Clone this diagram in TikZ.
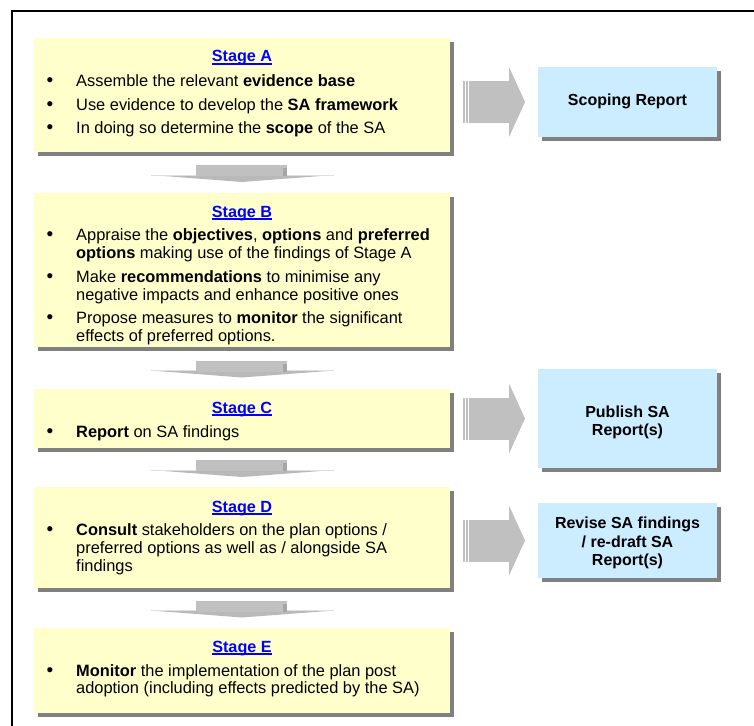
\documentclass[tikz,border=0pt]{standalone}
\usepackage{fontspec}
\setmainfont{Liberation Sans}
\usetikzlibrary{calc,shadows}
\definecolor{yfill}{HTML}{FFFFCC}
\definecolor{bfill}{HTML}{CCECFF}
\definecolor{shd}{HTML}{808080}
\definecolor{arr}{HTML}{C0C0C0}
\definecolor{ttl}{HTML}{0000FF}
\newcommand\stagettl[1]{\setbox0\hbox{\bfseries #1}\rlap{\rule[-2.8pt]{\wd0}{2pt}}\box0}
\begin{document}
\begin{tikzpicture}[x=1pt,y=-1pt,
  every node/.style={font=\fontsize{16}{18}\selectfont},
  boxshadow/.style={drop shadow={shadow xshift=4pt, shadow yshift=-4pt, fill=shd, opacity=1}},
  stagebox/.style={fill=yfill, inner sep=0, outer sep=0, anchor=north west, minimum width=416pt, boxshadow},
  outbox/.style={fill=bfill, inner sep=0, outer sep=0, anchor=north west, minimum width=179pt, boxshadow},
  ttlnode/.style={anchor=base, inner sep=0, text=ttl, font=\fontsize{16.2}{18}\selectfont},
  bul/.style={anchor=base, inner sep=0, font=\fontsize{19}{18}\selectfont},
  txt/.style={anchor=base west, inner sep=0, font=\fontsize{16.4}{18}\selectfont},
  ctxt/.style={anchor=base, inner sep=0, font=\fontsize{16}{18}\selectfont\bfseries},
  downarr/.pic={
    \fill[gray!55] (-91,2.5) -- (92,2.5) -- (0,9.5) -- cycle;
    \draw[gray!25, line width=0.8pt] (-91,2.5) -- (92,2.5);
    \fill[arr] (-46,-7.5) rectangle (45,3.5);
    \fill[gray!70] (41,-4.5) rectangle (45,3.5);
  },
  rightarr/.pic={
    \fill[arr] (-31,-21) rectangle (-29,21);
    \fill[arr] (-28,-21) rectangle (-26,21);
    \fill[arr] (-25,-21) rectangle (15.5,21);
    \fill[arr] (15,-35) -- (31,0) -- (15,35) -- cycle;
  }
]
\useasboundingbox[fill=white] (0,0) rectangle (754,725);
\draw[line width=2.5pt] (12,726) -- (12,11) -- (755,11);

% stage boxes
\node[stagebox, minimum height=114pt] (A) at (34,38) {};
\node[stagebox, minimum height=154pt] (B) at (34,193) {};
\node[stagebox, minimum height=59pt] (C) at (34,389) {};
\node[stagebox, minimum height=101pt] (D) at (34,487) {};
\node[stagebox, minimum height=85pt] (E) at (34,628) {};

% output boxes
\node[outbox, minimum height=70pt] (S) at (538,67) {};
\node[outbox, minimum height=99pt] (P) at (538,369) {};
\node[outbox, minimum height=75pt] (R) at (538,503) {};

% down arrows
\pic at ($(A.south)!0.5!(B.north)$) {downarr};
\pic at ($(B.south)!0.5!(C.north)$) {downarr};
\pic at ($(C.south)!0.5!(D.north)$) {downarr};
\pic at ($(D.south)!0.5!(E.north)$) {downarr};

% right arrows
\pic at ($(A.east |- S.west)!0.5!(S.west)$) {rightarr};
\pic at ($(C.east |- P.west)!0.5!(P.west)$) {rightarr};
\pic at ($(D.east |- R.west)!0.5!(R.west)$) {rightarr};

% Stage A
\node[ttlnode] (tA) at (242,62) {\stagettl{Stage A}};
\node[bul] (bA1) at (50,86) {•};
\node[txt] (xA1) at (76,86) {Assemble the relevant \textbf{evidence base}};
\node[bul] (bA2) at (50,110) {•};
\node[txt] (xA2) at (76,110) {Use evidence to develop the \textbf{SA framework}};
\node[bul] (bA3) at (50,133) {•};
\node[txt] (xA3) at (76,133) {In doing so determine the \textbf{scope} of the SA};

% Stage B
\node[ttlnode] (tB) at (242,217) {\stagettl{Stage B}};
\node[bul] (bB1) at (50,240) {•};
\node[txt] (xB1) at (76,240) {Appraise the \textbf{objectives}, \textbf{options} and \textbf{preferred}};
\node[txt] (xB1b) at (76,258) {\textbf{options} making use of the findings of Stage A};
\node[bul] (bB2) at (50,282) {•};
\node[txt] (xB2) at (76,282) {Make \textbf{recommendations} to minimise any};
\node[txt] (xB2b) at (76,300) {negative impacts and enhance positive ones};
\node[bul] (bB3) at (50,323) {•};
\node[txt] (xB3) at (76,323) {Propose measures to \textbf{monitor} the significant};
\node[txt] (xB3b) at (76,341) {effects of preferred options.};

% Stage C
\node[ttlnode] (tC) at (242,413) {\stagettl{Stage C}};
\node[bul] (bC1) at (50,437) {•};
\node[txt] (xC1) at (76,437) {\textbf{Report} on SA findings};

% Stage D
\node[ttlnode] (tD) at (242,512) {\stagettl{Stage D}};
\node[bul] (bD1) at (50,535) {•};
\node[txt] (xD1) at (76,535) {\textbf{Consult} stakeholders on the plan options /};
\node[txt] (xD1b) at (76,553) {preferred options as well as / alongside SA};
\node[txt] (xD1c) at (76,571) {findings};

% Stage E
\node[ttlnode] (tE) at (242,652) {\stagettl{Stage E}};
\node[bul] (bE1) at (50,676) {•};
\node[txt] (xE1) at (76,676) {\textbf{Monitor} the implementation of the plan post};
\node[txt] (xE1b) at (76,693) {adoption (including effects predicted by the SA)};

% output texts
\node[ctxt] (sS) at (627.5,105) {Scoping Report};
\node[ctxt] (sP1) at (627.5,417) {Publish SA};
\node[ctxt] (sP2) at (627.5,435) {Report(s)};
\node[ctxt] (sR1) at (627.5,528) {Revise SA findings};
\node[ctxt] (sR2) at (627.5,547) {/ re-draft SA};
\node[ctxt] (sR3) at (627.5,565) {Report(s)};
\end{tikzpicture}
\end{document}
